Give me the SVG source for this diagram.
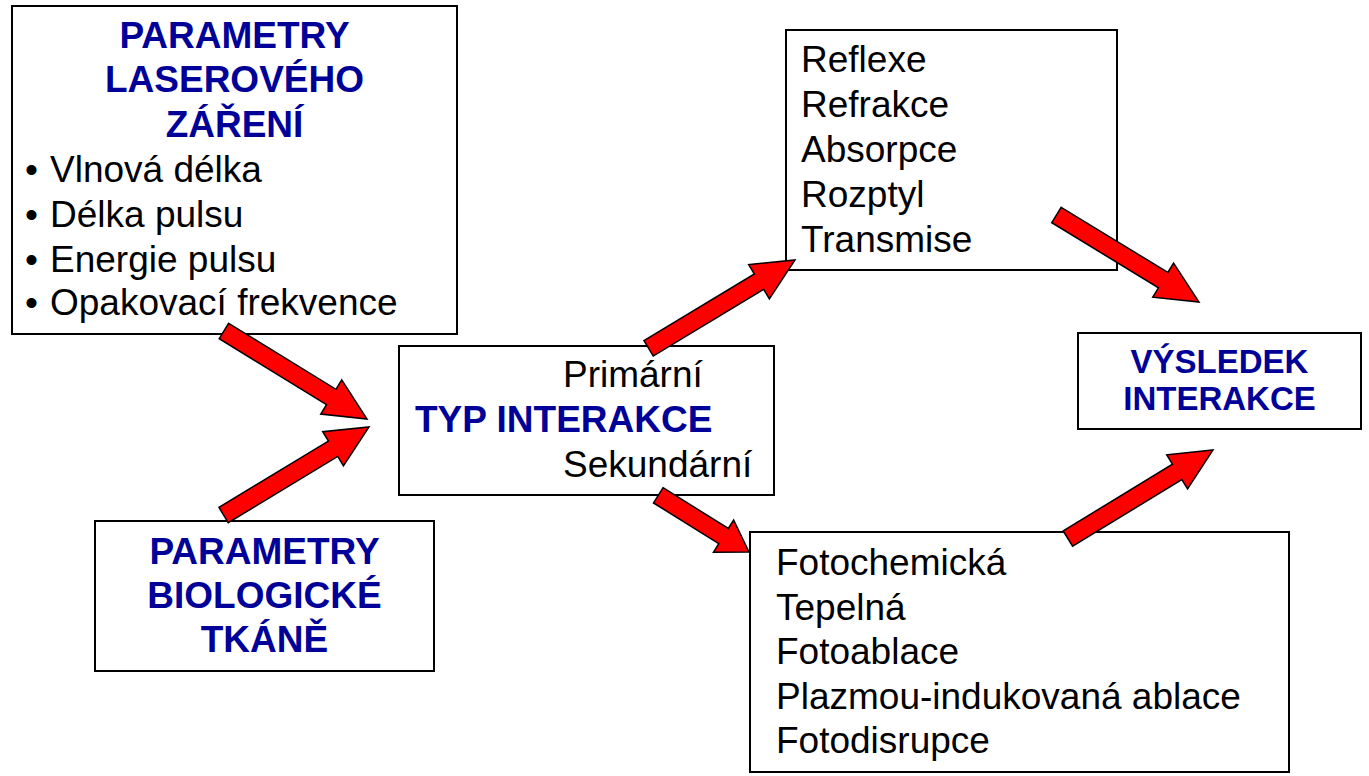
<svg xmlns="http://www.w3.org/2000/svg" width="1369" height="776" viewBox="0 0 1369 776">
<style>
.box{fill:#fff;stroke:#000;stroke-width:2}
.t{font-family:"Liberation Sans",Arial,sans-serif;font-size:37px;fill:#000}
.h{font-family:"Liberation Sans",Arial,sans-serif;font-size:37px;font-weight:bold;fill:#000099}
.arr{fill:#ff0000;stroke:#000;stroke-width:1.5;stroke-linejoin:miter}
</style>
<rect width="1369" height="776" fill="#fff"/>
<g id="laser">
<rect class="box" x="12" y="6" width="445" height="328"/>
<text class="h" x="234.5" y="48" text-anchor="middle">PARAMETRY</text>
<text class="h" x="234.5" y="92" text-anchor="middle">LASEROVÉHO</text>
<text class="h" x="234.5" y="137" text-anchor="middle">ZÁŘENÍ</text>
<text class="t" x="25" y="182">•</text><text class="t" x="50" y="182">Vlnová délka</text>
<text class="t" x="25" y="227">•</text><text class="t" x="50" y="227">Délka pulsu</text>
<text class="t" x="25" y="272">•</text><text class="t" x="50" y="272">Energie pulsu</text>
<text class="t" x="25" y="315">•</text><text class="t" x="50" y="315">Opakovací frekvence</text>
</g>
<g id="tkan">
<rect class="box" x="95" y="521" width="339" height="150"/>
<text class="h" x="264.5" y="564" text-anchor="middle">PARAMETRY</text>
<text class="h" x="264.5" y="608" text-anchor="middle">BIOLOGICKÉ</text>
<text class="h" x="264.5" y="652" text-anchor="middle">TKÁNĚ</text>
</g>
<g id="typ">
<rect class="box" x="399" y="346" width="375" height="149"/>
<text class="t" x="563" y="387">Primární</text>
<text class="h" x="415" y="432">TYP INTERAKCE</text>
<text class="t" x="563" y="477">Sekundární</text>
</g>
<g id="primarni">
<rect class="box" x="786" y="30" width="331" height="240"/>
<text class="t" x="801" y="72">Reflexe</text>
<text class="t" x="801" y="117">Refrakce</text>
<text class="t" x="801" y="162">Absorpce</text>
<text class="t" x="801" y="207">Rozptyl</text>
<text class="t" x="801" y="252">Transmise</text>
</g>
<g id="sekundarni">
<rect class="box" x="750" y="532" width="539" height="240"/>
<text class="t" x="776" y="575">Fotochemická</text>
<text class="t" x="776" y="619.5">Tepelná</text>
<text class="t" x="776" y="664">Fotoablace</text>
<text class="t" x="776" y="708.5">Plazmou-indukovaná ablace</text>
<text class="t" x="776" y="753">Fotodisrupce</text>
</g>
<g id="vysledek">
<rect class="box" x="1078" y="333" width="283" height="96"/>
<text class="h" x="1219.5" y="373" text-anchor="middle" style="font-size:33px">VÝSLEDEK</text>
<text class="h" x="1219.5" y="410" text-anchor="middle" style="font-size:33px">INTERAKCE</text>
</g>
<g id="connectors">
<polygon class="arr" transform="translate(367,419) rotate(31.6)" points="-168,-9 -42,-9 -42,-20 0,0 -42,20 -42,9 -168,9"/>
<polygon class="arr" transform="translate(369,427) rotate(-31.2)" points="-170,-9 -42,-9 -42,-20 0,0 -42,20 -42,9 -170,9"/>
<polygon class="arr" transform="translate(795,260) rotate(-31.1)" points="-171,-9 -42,-9 -42,-20 0,0 -42,20 -42,9 -171,9"/>
<polygon class="arr" transform="translate(749,552) rotate(32)" points="-107,-9 -30,-9 -30,-19 0,0 -30,19 -30,9 -107,9"/>
<polygon class="arr" transform="translate(1199,302) rotate(31.4)" points="-167,-9 -42,-9 -42,-20 0,0 -42,20 -42,9 -167,9"/>
<polygon class="arr" transform="translate(1213,450) rotate(-31.4)" points="-170,-9 -42,-9 -42,-20 0,0 -42,20 -42,9 -170,9"/>
</g>
</svg>
